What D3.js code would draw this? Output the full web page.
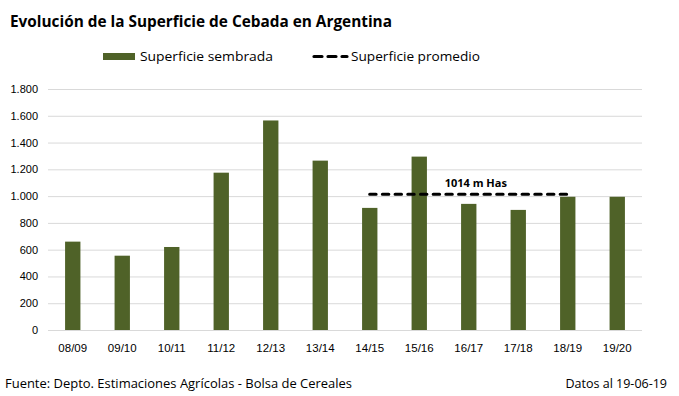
<!DOCTYPE html>
<html>
<head>
<meta charset="utf-8">
<script src="https://cdn.jsdelivr.net/npm/d3@7"></script>
<style>
  body { margin: 0; background: #fff; }
  svg { display: block; font-family: "Open Sans", "Noto Sans", sans-serif; }
</style>
</head>
<body>
<div id="chart"></div>
<script>
/* ============================================= */
/* Data */
/* ============================================= */

const campaigns = ['08/09', '09/10', '10/11', '11/12', '12/13', '13/14', '14/15', '15/16', '16/17', '17/18', '18/19', '19/20'];
const sownArea = [660, 555, 620, 1175, 1565, 1265, 912, 1295, 942, 897, 995, 995];
const averageArea = 1014;
const averageFrom = '14/15';
const averageTo = '18/19';
const yTicks = [0, 200, 400, 600, 800, 1000, 1200, 1400, 1600, 1800];

/* ============================================= */
/* Layout */
/* ============================================= */

const width = 679, height = 396;
const margin = { left: 48, right: 37, top: 89, bottom: 66 };
const green = '#4f6228';

const svg = d3.select('#chart').append('svg')
    .attr('width', width)
    .attr('height', height);

const x = d3.scaleBand()
    .domain(campaigns)
    .range([margin.left, width - margin.right])
    .paddingInner(0.69)
    .paddingOuter(0.345);

const y = d3.scaleLinear()
    .domain([0, 1800])
    .range([height - margin.bottom, margin.top]);

const fmt = v => d3.format(',')(v).replace(/,/g, '.');

// title
svg.append('text')
    .attr('x', 10).attr('y', 27)
    .attr('font-size', 16.5).attr('font-weight', 'bold')
    .attr('textLength', 382).attr('lengthAdjust', 'spacingAndGlyphs')
    .text('Evolución de la Superficie de Cebada en Argentina');

// gridlines + y labels
const yAxis = svg.append('g')
    .attr('transform', `translate(${margin.left},0)`)
    .call(d3.axisLeft(y).tickValues(yTicks).tickFormat(fmt)
        .tickSize(-(width - margin.left - margin.right)).tickPadding(10));
yAxis.select('.domain').remove();
yAxis.selectAll('.tick line').attr('stroke', '#d9d9d9');
yAxis.selectAll('.tick text').attr('font-size', 11).attr('fill', '#000');

// x labels
const xAxis = svg.append('g')
    .attr('transform', `translate(0,${y(0)})`)
    .call(d3.axisBottom(x).tickSize(0).tickPadding(14));
xAxis.select('.domain').remove();
xAxis.selectAll('.tick text').attr('font-size', 11.5).attr('fill', '#000');

// bars
svg.selectAll('.bar')
    .data(campaigns)
    .enter().append('rect')
    .attr('class', 'bar')
    .attr('x', d => x(d))
    .attr('width', x.bandwidth())
    .attr('y', (d, i) => y(sownArea[i]))
    .attr('height', (d, i) => y(0) - y(sownArea[i]))
    .attr('fill', green);

// average line
const ax1 = x(averageFrom) + x.bandwidth() / 2;
const ax2 = x(averageTo) + x.bandwidth() / 2;
svg.append('line')
    .attr('x1', ax1).attr('x2', ax2)
    .attr('y1', y(averageArea)).attr('y2', y(averageArea))
    .attr('stroke', '#000').attr('stroke-width', 3.2)
    .attr('stroke-linecap', 'round')
    .attr('stroke-dasharray', '6.3,6.4');

svg.append('text')
    .attr('x', (ax1 + ax2) / 2 + 7).attr('y', y(averageArea) - 7)
    .attr('text-anchor', 'middle')
    .attr('font-size', 11).attr('font-weight', 'bold')
    .text(averageArea + ' m Has');

// legend
const legend = svg.append('g');
legend.append('rect')
    .attr('x', 103).attr('y', 53).attr('width', 32).attr('height', 7)
    .attr('fill', green);
legend.append('text')
    .attr('x', 140).attr('y', 61)
    .attr('font-size', 13.5)
    .attr('textLength', 133).attr('lengthAdjust', 'spacingAndGlyphs')
    .text('Superficie sembrada');
legend.append('line')
    .attr('x1', 314).attr('x2', 347).attr('y1', 56.5).attr('y2', 56.5)
    .attr('stroke', '#000').attr('stroke-width', 3.2)
    .attr('stroke-linecap', 'round')
    .attr('stroke-dasharray', '8,6');
legend.append('text')
    .attr('x', 351).attr('y', 61)
    .attr('font-size', 13.5)
    .attr('textLength', 129).attr('lengthAdjust', 'spacingAndGlyphs')
    .text('Superficie promedio');

// footer
svg.append('text')
    .attr('x', 5).attr('y', 388)
    .attr('font-size', 12.5)
    .attr('textLength', 347).attr('lengthAdjust', 'spacingAndGlyphs')
    .text('Fuente: Depto. Estimaciones Agrícolas - Bolsa de Cereales');
svg.append('text')
    .attr('x', 667).attr('y', 388)
    .attr('text-anchor', 'end')
    .attr('font-size', 12.5)
    .text('Datos al 19-06-19');
</script>
</body>
</html>
